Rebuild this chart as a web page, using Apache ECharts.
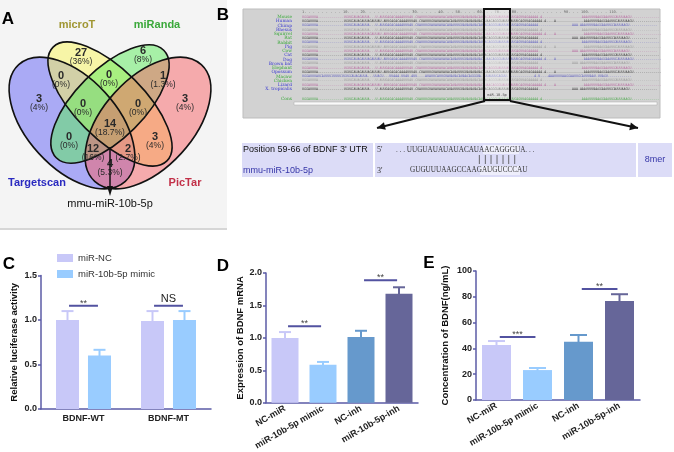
<!DOCTYPE html>
<html>
<head>
<meta charset="utf-8">
<script src="https://cdn.jsdelivr.net/npm/echarts@6.0.0/dist/echarts.min.js"></script>
<style>
html, body { margin: 0; padding: 0; background: #fff; }
#chart-container { width: 674px; height: 452px; }
</style>
</head>
<body>
<div id="chart-container"></div>
<script>
// ---- 數據 ----
// A: Venn
var vennSetNames = ['microT', 'miRanda', 'Targetscan', 'PicTar'];
var vennCounts = [27, 6, 3, 0, 0, 1, 3, 0, 0, 14, 0, 3, 12, 2, 4];
var vennPercents = ['36%', '8%', '4%', '0%', '0%', '1.3%', '4%', '0%', '0%', '18.7%', '0%', '4%', '16%', '2.7%', '5.3%'];
var targetMiRNA = 'mmu-miR-10b-5p';

// B: 比對
var species = ['Mouse', 'Human', 'Chimp', 'Rhesus', 'Squirrel', 'Rat', 'Rabbit', 'Pig', 'Cow', 'Cat', 'Dog',
    'Brown bat', 'Elephant', 'Opossum', 'Macaw', 'Chicken', 'Lizard', 'X. tropicalis'];
var utrSeq = '. . . UUGUAUAUAUACAUAACAGGGUA. . .';
var mirSeq = 'GUGUUUAAGCCAAGAUGUCCCAU';
var siteType = '8mer';

// C: luciferase
var lucCategories = ['BDNF-WT', 'BDNF-MT'];
var lucSeriesNames = ['miR-NC', 'miR-10b-5p mimic'];
var lucNC = [1.0, 0.99];
var lucNCErr = [0.10, 0.11];
var lucMimic = [0.60, 1.0];
var lucMimicErr = [0.065, 0.10];
var lucSig = [[0, 1.16, '**'], [1, 1.16, 'NS']];

// D / E
var treatCategories = ['NC-miR', 'miR-10b-5p mimic', 'NC-inh', 'miR-10b-5p-inh'];
var mrnaValues = [1.0, 0.585, 1.015, 1.68];
var mrnaErr = [0.09, 0.045, 0.095, 0.10];
var mrnaSig = [[0, 1, 1.18, '**'], [2, 3, 1.89, '**']];
var elisaValues = [42.6, 23.2, 45.2, 76.7];
var elisaErr = [3.1, 1.6, 5.2, 5.3];
var elisaSig = [[0, 1, 48.8, '***'], [2, 3, 86, '**']];

// ---- 樣式 ----
var FONT = 'Liberation Sans, Arial, sans-serif';
var axisColor = '#5b5ba6';
var sigColor = '#5252a0';
var treatColors = ['#c8c8f8', '#99ccff', '#6699cc', '#666699'];

var chart = echarts.init(document.getElementById('chart-container'));

// ---- A: Venn 圖形 ----
var g = [];
g.push({ type: 'rect', silent: true, shape: { x: 0, y: 0, width: 227, height: 229 }, style: { fill: '#f4f4f4' } });
g.push({ type: 'line', silent: true, shape: { x1: 0, y1: 229, x2: 227, y2: 229 }, style: { stroke: '#d6d6d6', lineWidth: 2 } });

var ellipses = [ // 版面位置
    { cx: 72, cy: 123, rx: 79, ry: 45, rot: -0.83, fill: 'rgba(95,95,245,0.5)' },    // Targetscan
    { cx: 110, cy: 104, rx: 80.5, ry: 34.5, rot: -Math.PI / 4, fill: 'rgba(250,245,90,0.5)' }, // microT
    { cx: 110, cy: 104, rx: 76, ry: 34.5, rot: Math.PI / 4, fill: 'rgba(90,235,90,0.5)' },     // miRanda
    { cx: 148, cy: 123, rx: 79, ry: 45, rot: 0.83, fill: 'rgba(245,95,100,0.5)' }    // PicTar
];
ellipses.forEach(function (e) {
    g.push({ type: 'ellipse', silent: true, shape: { cx: e.cx, cy: e.cy, rx: e.rx, ry: e.ry },
        originX: e.cx, originY: e.cy, rotation: e.rot, style: { fill: e.fill } });
});
ellipses.forEach(function (e) {
    g.push({ type: 'ellipse', silent: true, shape: { cx: e.cx, cy: e.cy, rx: e.rx, ry: e.ry },
        originX: e.cx, originY: e.cy, rotation: e.rot, style: { fill: 'none', stroke: '#111', lineWidth: 1.6 } });
});

var vennLabelPos = [[81, 57], [143, 55], [39, 103], [61, 80], [109, 79], [163, 80], [185, 103], [83, 108],
    [138, 108], [110, 128], [69, 141], [155, 141], [93, 153], [128, 153], [110, 168]];
vennCounts.forEach(function (c, i) {
    g.push({ type: 'text', silent: true, z: 10, style: {
        text: '{n|' + c + '}\n{p|(' + vennPercents[i] + ')}', x: vennLabelPos[i][0], y: vennLabelPos[i][1],
        align: 'center', verticalAlign: 'middle',
        rich: { n: { fontSize: 11, fontWeight: 'bold', fontFamily: FONT, fill: '#2a2a2a', lineHeight: 10, align: 'center' },
            p: { fontSize: 8.5, fontFamily: FONT, fill: '#2a2a2a', lineHeight: 9, align: 'center' } } } });
});
var setLabelStyle = [[77, 25, '#a09632'], [157, 25, '#3aa83a'], [37, 183, '#2a2ac0'], [185, 183, '#c23048']];
vennSetNames.forEach(function (n, i) {
    g.push({ type: 'text', silent: true, z: 10, style: { text: n, x: setLabelStyle[i][0], y: setLabelStyle[i][1],
        align: 'center', verticalAlign: 'middle', fontSize: 11, fontWeight: 'bold', fontFamily: FONT, fill: setLabelStyle[i][2] } });
});
g.push({ type: 'line', silent: true, z: 11, shape: { x1: 110, y1: 147, x2: 110, y2: 190 }, style: { stroke: '#111', lineWidth: 1.5 } });
g.push({ type: 'polygon', silent: true, z: 11, shape: { points: [[110, 196], [107, 186], [113, 186]] }, style: { fill: '#111' } });
g.push({ type: 'text', silent: true, style: { text: targetMiRNA, x: 110, y: 204, align: 'center', verticalAlign: 'middle',
    fontSize: 11, fontFamily: FONT, fill: '#111' } });

// 面板字母
[['A', 8, 19], ['B', 223, 15], ['C', 9, 264], ['D', 223, 266], ['E', 429, 263]].forEach(function (p) {
    g.push({ type: 'text', silent: true, style: { text: p[0], x: p[1], y: p[2], align: 'center', verticalAlign: 'middle',
        fontSize: 17, fontWeight: 'bold', fontFamily: FONT, fill: '#000' } });
});

// ---- B: 比對圖 ----
g.push({ type: 'rect', silent: true, shape: { x: 243, y: 9, width: 417, height: 109 }, style: { fill: '#d2d2d2', stroke: '#bdbdbd' } });
g.push({ type: 'text', silent: true, style: { text: '1. . . . . . . . . 10. . . 20. . . . . . . . . . . 30. . . . . 40. . . 50. . . . 60. . . 70. . . 80. . . . . . . . . . . 90. . . 100. . . . . 110. .',
    x: 302, y: 12, fontSize: 3.6, fontFamily: 'DejaVu Sans Mono', fill: '#666', verticalAlign: 'middle' } });
var seqVariants = [
    'UGGAUUUA-------------UGUGCAUAGAUUA---U-AUUGAGACAAAAUUUAU-CUAUUUGUAUAUAUACAUAUUUGUAUAUAUACAUAACAGGGUAUUUAUUUCAGUUAGAAAAA-A--------------------AAAUUUUAAGGAAUUGCAUUUAAGU--------------',
    'UGGAUUUA-------------UGUGCAUAGAUUAGAUUAU-AUUGAGACAAAAUUUAU-CUAUUUGUAUAUAUACAUAUUUGUAUAUAUACAUAACAGGGUAUUUAUUUCAGUUAGAAAAA-A----A--------------AAAUUUUAAGGAAUUGCAUUUAAGU--------------',
    'UGGAUUUA-------------UGUGCAUAGAUUA---U-AUUGAGACAAAAUUUAU-CUAUUUGUAUAUAUACAUAUUUGUAUAUAUACAUAACAGGGUAUUUAUUUCAGUUAGAAAAA-----------------AAA-AAAUUUUAAGGAAUUGCAUUUAAGU--------------',
    'UGGAUUUAUCAUUUCUUUUCUGUGCAUAGAUUA---UUACU---UUAAA-UUAU-AUU----AUAUUCAUUGUAUAUACAUAACAGGGUA-UUUAUUUCAGUU--------------A-U----AAAUUUUAAGGAAUUGCAUUUAAU-UUAGU------------'
];
var rowColors = ['#b86aa0', '#3c3c3c', '#6262c0', '#9a9a9a'];
var nameColors = ['#3aa83a', '#3a3ad0'];
var nameColorIdx = [0, 1, 1, 1, 0, 0, 0, 1, 0, 1, 1, 1, 0, 1, 0, 0, 1, 1];
species.forEach(function (s, i) {
    var y = 17 + i * 4.24;
    g.push({ type: 'text', silent: true, style: { text: s, x: 292, y: y, align: 'right', verticalAlign: 'middle',
        fontSize: 4.4, fontFamily: 'DejaVu Serif', fill: nameColors[nameColorIdx[i]] } });
    g.push({ type: 'text', silent: true, style: { text: seqVariants[i === 14 ? 3 : i % 3], x: 302, y: y, verticalAlign: 'middle',
        fontSize: 3.3, fontFamily: 'DejaVu Sans Mono', fill: rowColors[i % 4] } });
});
g.push({ type: 'text', silent: true, style: { text: 'Cons', x: 292, y: 99, align: 'right', verticalAlign: 'middle',
    fontSize: 4.4, fontFamily: 'DejaVu Serif', fill: '#3aa83a' } });
g.push({ type: 'text', silent: true, style: { text: seqVariants[0], x: 302, y: 99, verticalAlign: 'middle',
    fontSize: 3.3, fontFamily: 'DejaVu Sans Mono', fill: '#4ea84e' } });
g.push({ type: 'rect', silent: true, shape: { x: 294, y: 102, width: 363, height: 3 }, style: { fill: '#fafafa', stroke: '#aaa', lineWidth: 0.5 } });
g.push({ type: 'rect', silent: true, z: 5, shape: { x: 484, y: 9, width: 26, height: 91 }, style: { fill: 'rgba(255,255,255,0.35)', stroke: '#111', lineWidth: 2 } });
g.push({ type: 'text', silent: true, z: 6, style: { text: 'miR-10-5p', x: 497, y: 95.5, align: 'center', verticalAlign: 'middle',
    fontSize: 3.6, fontFamily: 'DejaVu Sans Mono', fill: '#444' } });

function arrowHead(x1, y1, x2, y2, size) {
    var a = Math.atan2(y2 - y1, x2 - x1);
    return [[x2, y2], [x2 - size * Math.cos(a - 0.45), y2 - size * Math.sin(a - 0.45)],
        [x2 - size * Math.cos(a + 0.45), y2 - size * Math.sin(a + 0.45)]];
}
[[485, 101, 377, 128], [510, 101, 638, 128]].forEach(function (a) {
    g.push({ type: 'line', silent: true, shape: { x1: a[0], y1: a[1], x2: a[2], y2: a[3] }, style: { stroke: '#111', lineWidth: 2 } });
    g.push({ type: 'polygon', silent: true, shape: { points: arrowHead(a[0], a[1], a[2], a[3], 9) }, style: { fill: '#111' } });
});

// 表格
[[242, 131], [375, 261], [638, 34]].forEach(function (c) {
    g.push({ type: 'rect', silent: true, shape: { x: c[0], y: 143, width: c[1], height: 34 }, style: { fill: '#dcdcf7' } });
});
g.push({ type: 'rect', silent: true, shape: { x: 483, y: 145, width: 36, height: 9 }, style: { fill: '#eeeefb' } });
g.push({ type: 'rect', silent: true, shape: { x: 480, y: 166, width: 40, height: 9 }, style: { fill: '#eeeefb' } });
g.push({ type: 'text', silent: true, style: { text: 'Position 59-66 of BDNF 3\' UTR', x: 243, y: 150, verticalAlign: 'middle',
    fontSize: 9, fontFamily: FONT, fill: '#111' } });
g.push({ type: 'text', silent: true, style: { text: targetMiRNA, x: 243, y: 171, verticalAlign: 'middle',
    fontSize: 9, fontFamily: FONT, fill: '#3535a8' } });
g.push({ type: 'text', silent: true, style: { text: '5\'', x: 377, y: 150, verticalAlign: 'middle', fontSize: 8, fontFamily: 'Liberation Serif', fill: '#333' } });
g.push({ type: 'text', silent: true, style: { text: '3\'', x: 377, y: 171, verticalAlign: 'middle', fontSize: 8, fontFamily: 'Liberation Serif', fill: '#333' } });
g.push({ type: 'text', silent: true, style: { text: utrSeq, x: 396, y: 150, verticalAlign: 'middle', fontSize: 7.2, fontFamily: 'Liberation Serif', fill: '#333' } });
g.push({ type: 'text', silent: true, style: { text: '| | | | | | |', x: 497, y: 160, align: 'center', verticalAlign: 'middle', fontSize: 9, fontFamily: 'DejaVu Sans', fill: '#444' } });
g.push({ type: 'text', silent: true, style: { text: mirSeq, x: 410, y: 170, verticalAlign: 'middle', fontSize: 7.2, fontFamily: 'Liberation Serif', fill: '#333' } });
g.push({ type: 'text', silent: true, style: { text: siteType, x: 655, y: 160, align: 'center', verticalAlign: 'middle', fontSize: 9, fontFamily: FONT, fill: '#3535a8' } });

// ---- 誤差線 / 顯著性 ----
function errRender(colors, offsetPx) {
    return function (params, api) {
        var i = api.value(0);
        var x = api.coord([i, 0])[0] + offsetPx;
        var yBar = api.coord([i, api.value(1)])[1];
        var yTop = api.coord([i, api.value(1) + api.value(2)])[1];
        var half = params.seriesName === 'errE' ? 8.5 : 6;
        var col = colors[i];
        return { type: 'group', children: [
            { type: 'line', shape: { x1: x, y1: yBar + 1, x2: x, y2: yTop }, style: { stroke: col, lineWidth: 2 } },
            { type: 'line', shape: { x1: x - half, y1: yTop, x2: x + half, y2: yTop }, style: { stroke: col, lineWidth: 2 } }
        ] };
    };
}
function sigRender(labels) {
    return function (params, api) {
        var band = api.size([1, 0])[0];
        var x0, x1, y;
        if (params.seriesName === 'sigC') {
            var c = api.coord([api.value(0), api.value(1)]);
            x0 = c[0] - 0.17 * band; x1 = c[0] + 0.17 * band; y = c[1];
        } else {
            var a = api.coord([api.value(0), api.value(2)]);
            var b = api.coord([api.value(1), api.value(2)]);
            x0 = a[0] + 0.08 * band; x1 = b[0] - 0.05 * band; y = a[1];
        }
        var t = labels[params.dataIndex];
        var fs = t === 'NS' ? 11 : 9;
        return { type: 'group', children: [
            { type: 'line', shape: { x1: x0, y1: y, x2: x1, y2: y }, style: { stroke: sigColor, lineWidth: 2 } },
            { type: 'text', style: { text: t, x: (x0 + x1) / 2, y: t === 'NS' ? y - 1 : y + 2, align: 'center', verticalAlign: 'bottom',
                fontSize: fs, fontFamily: FONT, fill: t === 'NS' ? '#222' : '#444' } }
        ] };
    };
}

function yAxisCfg(gridIndex, max, interval, name, gap, digits) {
    return {
        type: 'value', gridIndex: gridIndex, min: 0, max: max, interval: interval,
        name: name, nameLocation: 'middle', nameRotate: 90, nameGap: gap,
        nameTextStyle: { fontSize: 9.5, fontWeight: 'bold', fontFamily: FONT, color: '#111' },
        axisLine: { show: true, lineStyle: { color: axisColor, width: 1.5 } },
        axisTick: { show: true, length: 3, lineStyle: { color: axisColor, width: 1.5 } },
        axisLabel: { fontSize: 9, fontWeight: 'bold', fontFamily: FONT, color: '#222', margin: 4,
            formatter: function (v) { return v.toFixed(digits); } },
        splitLine: { show: false }
    };
}
function xAxisCfg(gridIndex, data, rotate) {
    return {
        type: 'category', gridIndex: gridIndex, data: data,
        axisLine: { lineStyle: { color: axisColor, width: 1.5 } },
        axisTick: { alignWithLabel: true, length: 3, lineStyle: { color: axisColor, width: 1.5 } },
        axisLabel: { interval: 0, rotate: rotate, fontSize: 9, fontWeight: 'bold', fontFamily: FONT, color: '#222', margin: 5 }
    };
}

var option = {
    animation: false,
    backgroundColor: '#fff',
    graphic: g,
    legend: {
        data: lucSeriesNames, orient: 'vertical', left: 57, top: 253, padding: 0, icon: 'rect',
        itemWidth: 16, itemHeight: 8, itemGap: 6,
        textStyle: { fontSize: 9.5, fontFamily: FONT, color: '#333' }
    },
    grid: [
        { left: 41, top: 275.5, width: 170, height: 133.5 },
        { left: 266, top: 273, width: 152, height: 130 },
        { left: 476, top: 271, width: 164, height: 129 }
    ],
    xAxis: [
        xAxisCfg(0, lucCategories, 0),
        xAxisCfg(1, treatCategories, 30),
        xAxisCfg(2, treatCategories, 30)
    ],
    yAxis: [
        yAxisCfg(0, 1.5, 0.5, 'Relative luciferase activity', 22, 1),
        yAxisCfg(1, 2, 0.5, 'Expression of BDNF mRNA', 21, 1),
        yAxisCfg(2, 100, 20, 'Concentration of BDNF(ng/mL)', 26, 0)
    ],
    series: [
        { name: lucSeriesNames[0], type: 'bar', xAxisIndex: 0, yAxisIndex: 0, data: lucNC, barWidth: 23, barGap: '39%',
            itemStyle: { color: treatColors[0] } },
        { name: lucSeriesNames[1], type: 'bar', xAxisIndex: 0, yAxisIndex: 0, data: lucMimic, barWidth: 23,
            itemStyle: { color: treatColors[1] } },
        { name: 'errC0', type: 'custom', xAxisIndex: 0, yAxisIndex: 0, z: 1,
            data: lucNC.map(function (v, i) { return [i, v, lucNCErr[i]]; }),
            renderItem: errRender([treatColors[0], treatColors[0]], -16) },
        { name: 'errC1', type: 'custom', xAxisIndex: 0, yAxisIndex: 0, z: 1,
            data: lucMimic.map(function (v, i) { return [i, v, lucMimicErr[i]]; }),
            renderItem: errRender([treatColors[1], treatColors[1]], 16) },
        { name: 'sigC', type: 'custom', xAxisIndex: 0, yAxisIndex: 0,
            data: lucSig.map(function (s) { return [s[0], s[1]]; }),
            renderItem: sigRender(lucSig.map(function (s) { return s[2]; })) },

        { name: 'mRNA', type: 'bar', xAxisIndex: 1, yAxisIndex: 1, barWidth: 27,
            data: mrnaValues.map(function (v, i) { return { value: v, itemStyle: { color: treatColors[i] } }; }) },
        { name: 'errD', type: 'custom', xAxisIndex: 1, yAxisIndex: 1, z: 1,
            data: mrnaValues.map(function (v, i) { return [i, v, mrnaErr[i]]; }),
            renderItem: errRender(treatColors, 0) },
        { name: 'sigD', type: 'custom', xAxisIndex: 1, yAxisIndex: 1,
            data: mrnaSig.map(function (s) { return [s[0], s[1], s[2]]; }),
            renderItem: sigRender(mrnaSig.map(function (s) { return s[3]; })) },

        { name: 'ELISA', type: 'bar', xAxisIndex: 2, yAxisIndex: 2, barWidth: 29,
            data: elisaValues.map(function (v, i) { return { value: v, itemStyle: { color: treatColors[i] } }; }) },
        { name: 'errE', type: 'custom', xAxisIndex: 2, yAxisIndex: 2, z: 1,
            data: elisaValues.map(function (v, i) { return [i, v, elisaErr[i]]; }),
            renderItem: errRender(treatColors, 0) },
        { name: 'sigE', type: 'custom', xAxisIndex: 2, yAxisIndex: 2,
            data: elisaSig.map(function (s) { return [s[0], s[1], s[2]]; }),
            renderItem: sigRender(elisaSig.map(function (s) { return s[3]; })) }
    ]
};

chart.setOption(option);
</script>
</body>
</html>
